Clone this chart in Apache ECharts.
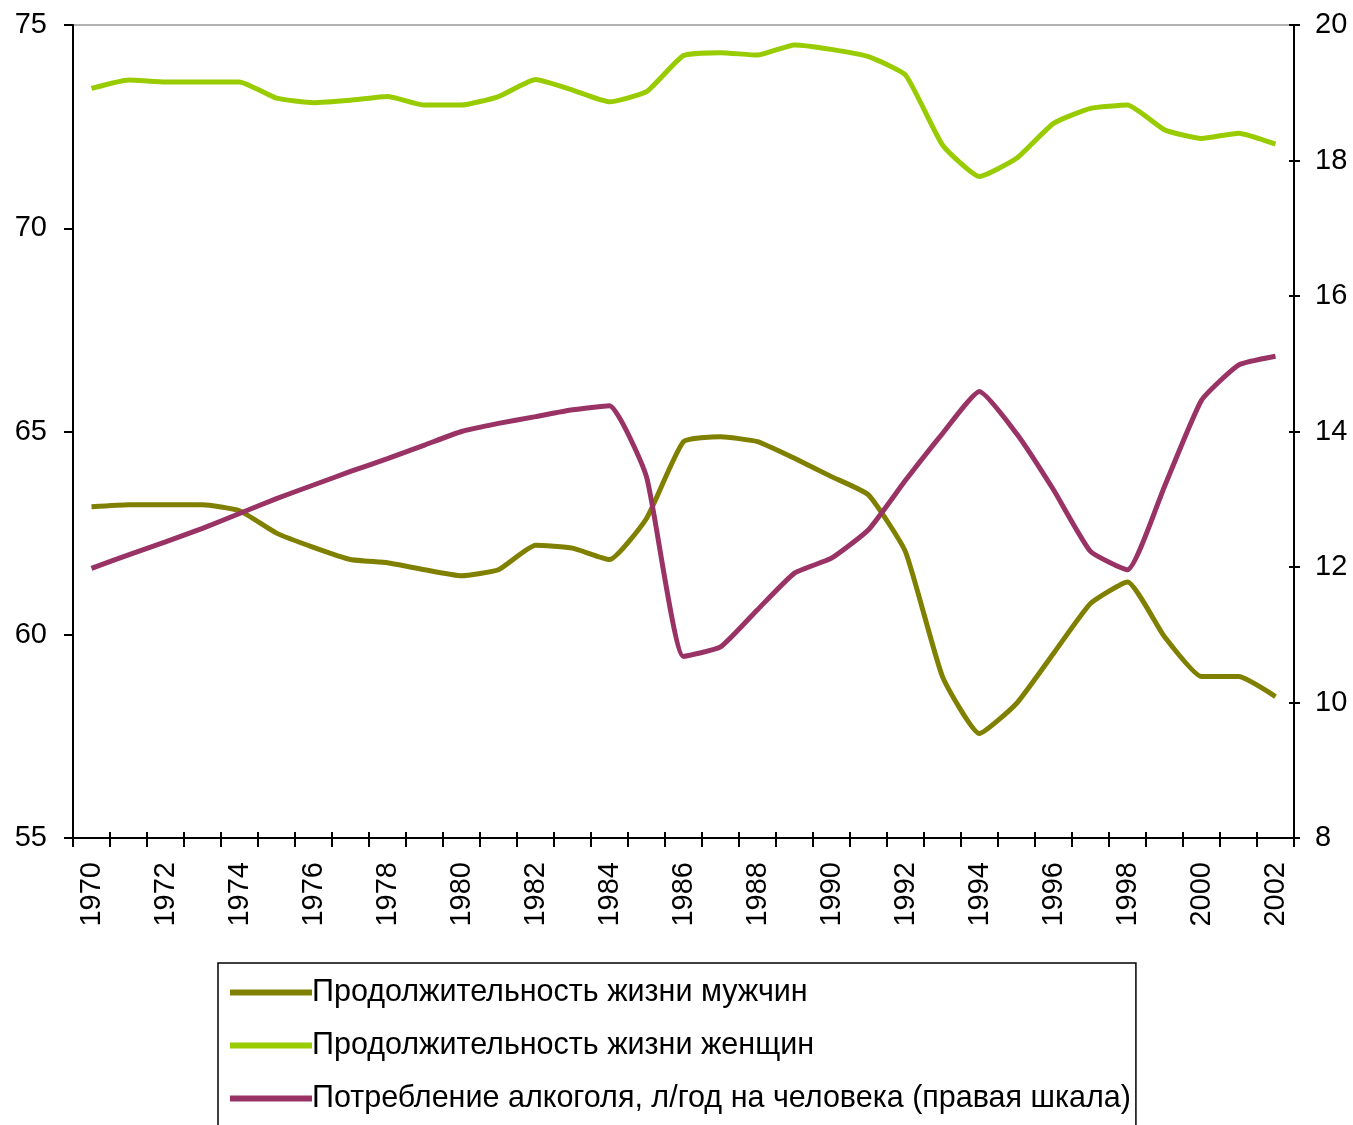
<!DOCTYPE html>
<html>
<head>
<meta charset="utf-8">
<script src="https://cdn.jsdelivr.net/npm/echarts@6/dist/echarts.min.js"></script>
<style>
html,body{margin:0;padding:0;background:#fff;}
#chart{width:1353px;height:1125px;}
</style>
</head>
<body>
<div id="chart"></div>
<script>
const years = ['1970','1971','1972','1973','1974','1975','1976','1977','1978','1979','1980','1981','1982','1983','1984','1985','1986','1987','1988','1989','1990','1991','1992','1993','1994','1995','1996','1997','1998','1999','2000','2001','2002'];
const menLife = [63.15,63.2,63.2,63.2,63.05,62.5,62.15,61.85,61.77,61.6,61.45,61.6,62.2,62.13,61.85,62.86,64.75,64.87,64.75,64.34,63.89,63.44,62.04,58.97,57.57,58.31,59.54,60.77,61.3,59.95,58.97,58.97,58.48];
const womenLife = [73.44,73.65,73.6,73.6,73.6,73.2,73.09,73.15,73.24,73.03,73.03,73.24,73.66,73.4,73.11,73.36,74.25,74.32,74.26,74.51,74.4,74.22,73.77,72.05,71.27,71.72,72.58,72.95,73.03,72.42,72.21,72.34,72.07];
const alcohol = [11.98,12.18,12.37,12.57,12.79,13.01,13.21,13.41,13.6,13.8,14.0,14.12,14.22,14.32,14.38,13.33,10.68,10.82,11.37,11.91,12.13,12.55,13.28,13.97,14.59,13.97,13.14,12.23,11.96,13.19,14.46,14.98,15.11];
const seriesNames = ['Продолжительность жизни мужчин','Продолжительность жизни женщин','Потребление алкоголя, л/год на человека (правая шкала)'];
const colors = ['#808000','#99cc00','#993366'];

const font = 'Liberation Sans, Arial, sans-serif';
const chart = echarts.init(document.getElementById('chart'));
chart.setOption({
  animation: false,
  backgroundColor: '#fff',
  grid: {left: 73, right: 59, top: 25, bottom: 287, show: true, borderColor: '#999', borderWidth: 1.5, backgroundColor: 'transparent'},
  legend: {
    orient: 'vertical', left: 218, top: 963, height: 200,
    icon: 'rect', itemWidth: 82, itemHeight: 6, itemGap: 22,
    padding: [14, 5, 30, 12],
    borderColor: '#000', borderWidth: 1.5,
    textStyle: {fontFamily: font, fontSize: 30.5, color: '#000', padding: [0,0,0,-5]},
    data: seriesNames
  },
  xAxis: [{
    type: 'category', data: years, boundaryGap: true, position: 'bottom',
    axisLine: {lineStyle: {color: '#000', width: 2}},
    axisTick: {show: true, interval: 0, length: 9, lineStyle: {color: '#000', width: 2}},
    axisLabel: {interval: 1, rotate: 90, margin: 24, fontFamily: font, fontSize: 29, color: '#000'},
    splitLine: {show: false}
  },{
    type: 'category', data: years, boundaryGap: true, position: 'bottom',
    axisLine: {show: false},
    axisTick: {show: true, inside: true, interval: 0, length: 6, lineStyle: {color: '#000', width: 2}},
    axisLabel: {show: false}, splitLine: {show: false}
  }],
  yAxis: [{
    type: 'value', min: 55, max: 75, interval: 5, position: 'left',
    axisLine: {show: true, lineStyle: {color: '#000', width: 2}},
    axisTick: {show: true, length: 9, lineStyle: {color: '#000', width: 2}},
    axisLabel: {margin: 26, fontFamily: font, fontSize: 29, color: '#000'},
    splitLine: {show: false}
  },{
    type: 'value', min: 8, max: 20, interval: 2, position: 'right',
    axisLine: {show: true, lineStyle: {color: '#000', width: 2}},
    axisTick: {show: true, length: 6, lineStyle: {color: '#000', width: 2}},
    axisLabel: {margin: 21, fontFamily: font, fontSize: 29, color: '#000'},
    splitLine: {show: false}
  },{
    type: 'value', min: 8, max: 20, interval: 2, position: 'right',
    axisLine: {show: false},
    axisTick: {show: true, inside: true, length: 5, lineStyle: {color: '#000', width: 2}},
    axisLabel: {show: false}, splitLine: {show: false}
  }],
  series: [
    {name: seriesNames[0], type: 'line', data: menLife, yAxisIndex: 0, showSymbol: false, symbol: 'none', smooth: 0.15, lineStyle: {color: colors[0], width: 5}, itemStyle: {color: colors[0]}},
    {name: seriesNames[1], type: 'line', data: womenLife, yAxisIndex: 0, showSymbol: false, symbol: 'none', smooth: 0.15, lineStyle: {color: colors[1], width: 5}, itemStyle: {color: colors[1]}},
    {name: seriesNames[2], type: 'line', data: alcohol, yAxisIndex: 1, showSymbol: false, symbol: 'none', smooth: 0.15, lineStyle: {color: colors[2], width: 5}, itemStyle: {color: colors[2]}}
  ]
});
</script>
</body>
</html>
